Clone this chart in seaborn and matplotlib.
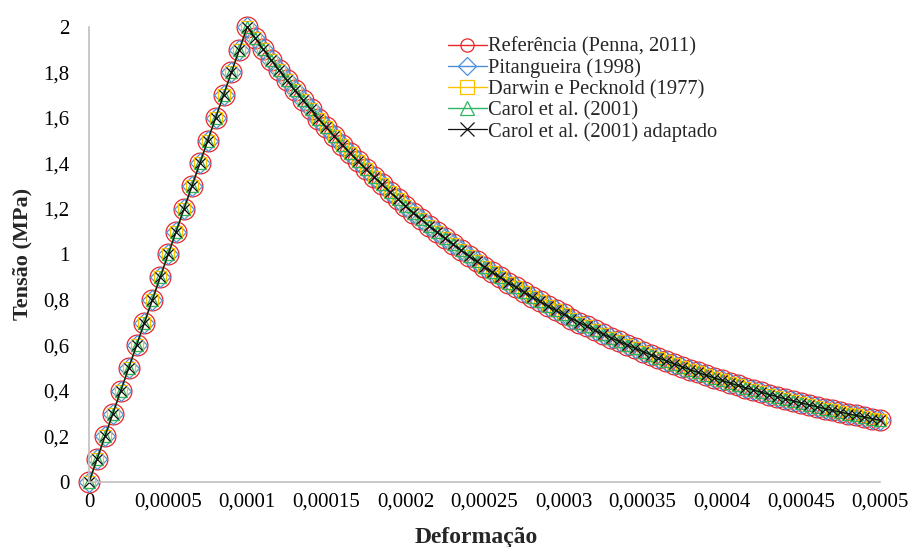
import numpy as np
import pandas as pd
import matplotlib
matplotlib.use("Agg")
import matplotlib.pyplot as plt
import seaborn as sns

# ---- data ----
strain_asc = [0, 0.000005, 0.00001, 0.000015, 0.00002, 0.000025, 0.00003, 0.000035,
              0.00004, 0.000045, 0.00005, 0.000055, 0.00006, 0.000065, 0.00007,
              0.000075, 0.00008, 0.000085, 0.00009, 0.000095, 0.0001]
stress_asc = [0.0, 0.1, 0.2, 0.3, 0.4, 0.5, 0.6, 0.7, 0.8, 0.9, 1.0,
              1.1, 1.2, 1.3, 1.4, 1.5, 1.6, 1.7, 1.8, 1.9, 2.0]

stress_desc = [1.951, 1.902, 1.855, 1.810, 1.765, 1.721, 1.679, 1.637, 1.597, 1.558,
               1.519, 1.482, 1.445, 1.409, 1.375, 1.341, 1.308, 1.275, 1.244, 1.213,
               1.183, 1.154, 1.125, 1.098, 1.071, 1.044, 1.018, 0.993, 0.969, 0.945,
               0.921, 0.899, 0.876, 0.855, 0.834, 0.813, 0.793, 0.773, 0.754, 0.736,
               0.718, 0.700, 0.683, 0.666, 0.649, 0.633, 0.618, 0.602, 0.588, 0.573,
               0.559, 0.545, 0.532, 0.518, 0.506, 0.493, 0.481, 0.469, 0.458, 0.446,
               0.435, 0.424, 0.414, 0.404, 0.394, 0.384, 0.375, 0.365, 0.356, 0.348,
               0.339, 0.331, 0.322, 0.314, 0.307, 0.299, 0.292, 0.285, 0.278, 0.271]
strain_step = 0.000005

series_names = ["Referência (Penna, 2011)", "Pitangueira (1998)",
                "Darwin e Pecknold (1977)", "Carol et al. (2001)",
                "Carol et al. (2001) adaptado"]

x_ticks = [0, 0.00005, 0.0001, 0.00015, 0.0002, 0.00025, 0.0003, 0.00035,
           0.0004, 0.00045, 0.0005]
x_tick_labels = ["0", "0,00005", "0,0001", "0,00015", "0,0002", "0,00025",
                 "0,0003", "0,00035", "0,0004", "0,00045", "0,0005"]
y_ticks = [0, 0.2, 0.4, 0.6, 0.8, 1.0, 1.2, 1.4, 1.6, 1.8, 2.0]
y_tick_labels = ["0", "0,2", "0,4", "0,6", "0,8", "1", "1,2", "1,4", "1,6", "1,8", "2"]

strain_desc = [strain_asc[-1] + strain_step * (i + 1) for i in range(len(stress_desc))]
strain = strain_asc + strain_desc
stress = stress_asc + stress_desc

# ---- styling ----
sns.set_theme(style="white")
plt.rcParams["font.family"] = ["Liberation Serif", "DejaVu Serif"]

styles = [
    dict(color="#E8262B", marker="o", markersize=15, lw=1.0),
    dict(color="#4A90D9", marker="D", markersize=10, lw=1.0),
    dict(color="#FFC000", marker="s", markersize=8.5, lw=1.0),
    dict(color="#2DB561", marker="^", markersize=9, lw=1.0),
    dict(color="#111111", marker="x", markersize=7, lw=0.9),
]

fig = plt.figure(figsize=(9.09, 5.47), dpi=100)
ax = fig.add_axes([0.098, 0.119, 0.870, 0.832])

df = pd.DataFrame({"strain": strain, "stress": stress})
for name, st in zip(series_names, styles):
    kw = dict(marker=st["marker"], markersize=st["markersize"],
              markeredgecolor=st["color"], markeredgewidth=0.9, clip_on=False)
    if st["marker"] != "x":
        kw["markerfacecolor"] = "none"
    sns.lineplot(data=df, x="strain", y="stress", ax=ax, color=st["color"],
                 linewidth=st["lw"], estimator=None, sort=False, label=name, **kw)

ax.set_xlim(0, 0.0005)
ax.set_ylim(0, 2)
ax.set_xticks(x_ticks)
ax.set_xticklabels(x_tick_labels)
ax.set_yticks(y_ticks)
ax.set_yticklabels(y_tick_labels)
ax.tick_params(axis="both", direction="in", length=5, width=1, color="#BFBFBF",
               labelsize=15, labelcolor="black")
ax.tick_params(axis="y", pad=14)
ax.tick_params(axis="x", pad=8)

for side in ["top", "right"]:
    ax.spines[side].set_visible(False)
for side in ["left", "bottom"]:
    ax.spines[side].set_color("#BFBFBF")
    ax.spines[side].set_linewidth(1.2)

ax.set_xlabel("Deformação", fontsize=17, fontweight="bold")
ax.set_ylabel("Tensão (MPa)", fontsize=16, fontweight="bold")
ax.xaxis.set_label_coords(0.49, -0.099)
ax.yaxis.set_label_coords(-0.072, 0.5)

leg = ax.legend(loc="upper left", bbox_to_anchor=(0.443, 0.995), frameon=False,
                fontsize=14.8, handlelength=1.9, handletextpad=0.05,
                labelspacing=0.08, borderaxespad=0)
for h in leg.legend_handles:
    h.set_markersize(9.5)

fig.savefig("out.png", dpi=100)
